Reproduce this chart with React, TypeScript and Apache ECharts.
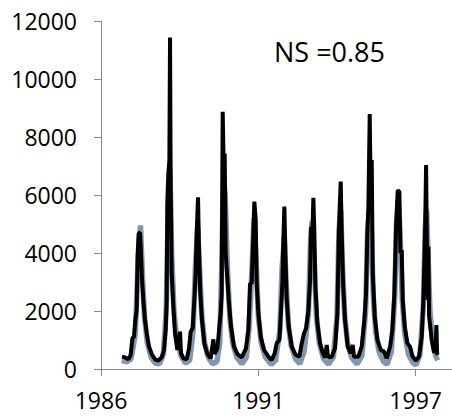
import React, { useEffect, useRef } from "react";
import * as echarts from "echarts";

// x: decimal year, y: discharge
const observedYears: number[] = [
  1986.734, 1986.839, 1986.956, 1987.037, 1987.096, 1987.154, 1987.2, 1987.247, 1987.282, 1987.317, 1987.364, 1987.399, 1987.434, 1987.48, 1987.538, 1987.597, 1987.678, 1987.772, 1987.888, 1988.005, 1988.121, 1988.203,
  1988.261, 1988.296, 1988.32, 1988.355, 1988.39, 1988.413, 1988.436, 1988.471, 1988.518, 1988.587, 1988.669, 1988.762, 1988.797, 1988.879, 1988.995, 1989.077, 1989.135, 1989.205,
  1989.263, 1989.31, 1989.345, 1989.392, 1989.427, 1989.473, 1989.531, 1989.613, 1989.718, 1989.834, 1989.928, 1989.974, 1990.068, 1990.138,
  1990.184, 1990.219, 1990.254, 1990.289, 1990.324, 1990.359, 1990.406, 1990.464, 1990.545, 1990.65, 1990.767, 1990.918, 1991.07, 1991.152,
  1991.21, 1991.268, 1991.326, 1991.361, 1991.408, 1991.443, 1991.501, 1991.583, 1991.699, 1991.851, 1991.967, 1992.072, 1992.142, 1992.235, 1992.294,
  1992.34, 1992.375, 1992.41, 1992.445, 1992.492, 1992.562, 1992.667, 1992.807, 1992.935, 1993.016, 1993.098, 1993.17, 1993.25, 1993.308,
  1993.343, 1993.39, 1993.424, 1993.459, 1993.494, 1993.564, 1993.657, 1993.75, 1993.832, 1993.89, 1993.937, 1994.065, 1994.182, 1994.263,
  1994.31, 1994.345, 1994.38, 1994.415, 1994.462, 1994.531, 1994.625, 1994.73, 1994.8, 1994.846, 1994.998, 1995.114, 1995.207, 1995.266,
  1995.312, 1995.347, 1995.394, 1995.429, 1995.464, 1995.499, 1995.569, 1995.662, 1995.779, 1995.895, 1995.988, 1996.105, 1996.186, 1996.256,
  1996.315, 1996.373, 1996.431, 1996.466, 1996.513, 1996.548, 1996.618, 1996.711, 1996.804, 1996.886, 1997.002, 1997.119, 1997.212, 1997.27,
  1997.329, 1997.364, 1997.399, 1997.422, 1997.446, 1997.469, 1997.562, 1997.643, 1997.702, 1997.725, 1997.748, 1997.772,
];
const observedFlow: number[] = [
  425, 400, 333, 480, 1057, 1115, 1690, 2030, 3990, 4680, 4700, 3990, 3070, 2380, 1690, 1230, 770, 517, 333, 287, 400, 655,
  1344, 2380, 5825, 6745, 7204, 11433, 6400, 3300, 2380, 1230, 655, 1287, 540, 368, 333, 712, 1287, 1402,
  2380, 3300, 4680, 5920, 3990, 2610, 1690, 885, 517, 368, 1023, 517, 712, 1460,
  1920, 2610, 8870, 6975, 7434, 3990, 3300, 2380, 1460, 770, 517, 400, 712, 1344,
  2950, 2950, 4680, 5770, 5140, 2950, 1920, 1115, 655, 425, 310, 540, 885, 1000, 2030,
  2950, 4450, 5600, 3990, 2380, 1460, 770, 483, 425, 885, 1230, 1402, 2030, 3070,
  4900, 4680, 5905, 4680, 2840, 1575, 885, 540, 400, 827, 400, 425, 712, 1920,
  4450, 5600, 6460, 4680, 2950, 1690, 770, 540, 827, 425, 425, 770, 1690, 2610,
  4680, 5600, 8790, 5825, 7204, 3300, 1804, 1000, 655, 598, 368, 770, 1344, 2610,
  4900, 6170, 6110, 3990, 4100, 2380, 1460, 885, 770, 448, 287, 425, 1115, 2380,
  4680, 7030, 3530, 2380, 4220, 1800, 1000, 563, 655, 1517, 540, 483,
];

const simulatedYears: number[] = [
  1986.73, 1986.9, 1987.05, 1987.2, 1987.3, 1987.38, 1987.45, 1987.52, 1987.62, 1987.75, 1987.9, 1988.05, 1988.18,
  1988.28, 1988.35, 1988.41, 1988.47, 1988.55, 1988.65, 1988.8, 1988.95, 1989.1, 1989.22,
  1989.3, 1989.38, 1989.44, 1989.52, 1989.62, 1989.75, 1989.9, 1990.05, 1990.15,
  1990.22, 1990.28, 1990.34, 1990.42, 1990.5, 1990.6, 1990.75, 1990.92, 1991.08, 1991.18,
  1991.28, 1991.35, 1991.42, 1991.5, 1991.6, 1991.75, 1991.95, 1992.1, 1992.25,
  1992.33, 1992.41, 1992.47, 1992.55, 1992.65, 1992.8, 1992.95, 1993.1, 1993.25,
  1993.33, 1993.38, 1993.45, 1993.53, 1993.63, 1993.78, 1993.95, 1994.12, 1994.25,
  1994.32, 1994.38, 1994.44, 1994.52, 1994.62, 1994.76, 1994.95, 1995.12, 1995.25,
  1995.32, 1995.39, 1995.45, 1995.52, 1995.6, 1995.72, 1995.88, 1996.0, 1996.15, 1996.27,
  1996.33, 1996.39, 1996.45, 1996.53, 1996.62, 1996.75, 1996.9, 1997.02, 1997.15, 1997.27,
  1997.33, 1997.38, 1997.43, 1997.5, 1997.6, 1997.7, 1997.77,
];
const simulatedFlow: number[] = [
  300, 250, 350, 1200, 3800, 4950, 3200, 1800, 900, 400, 200, 180, 500,
  2000, 5500, 6900, 4000, 2000, 1000, 450, 200, 300, 1300,
  3500, 4900, 3600, 1900, 900, 400, 180, 250, 900,
  3500, 6500, 6000, 3500, 1800, 900, 400, 180, 400, 1500,
  3500, 5200, 3800, 1800, 900, 400, 150, 300, 1300,
  3500, 4500, 3000, 1500, 800, 350, 180, 600, 1900,
  4500, 5100, 3800, 1800, 900, 350, 170, 400, 1800,
  4800, 5500, 3600, 1800, 900, 400, 170, 450, 2000,
  4800, 5500, 4800, 2500, 1300, 600, 250, 160, 600, 2500,
  5000, 5800, 4800, 2400, 1200, 500, 220, 140, 500, 2200,
  4800, 5500, 4000, 2000, 900, 450, 300,
];

const xTickValues: number[] = [1986, 1991.5, 1997];
const xTickLabels: string[] = ["1986", "1991", "1997"];
const nsLabel = "NS =0.85";

const FONT = "'Open Sans', 'Noto Sans', sans-serif";

export default function App() {
  const ref = useRef<HTMLDivElement>(null);
  useEffect(() => {
    if (!ref.current) return;
    const chart = echarts.init(ref.current, null, { renderer: "svg" });
    const obs = observedYears.map((x, i) => [x, observedFlow[i]]);
    const sim = simulatedYears.map((x, i) => [x, simulatedFlow[i]]);
    chart.setOption({
      animation: false,
      backgroundColor: "#ffffff",
      grid: { left: 101, top: 21, width: 351, height: 348, containLabel: false },
      xAxis: {
        type: "value",
        min: 1986,
        max: 1998.27,
        axisLine: { show: true, lineStyle: { color: "#888888", width: 1 } },
        axisTick: { show: true, length: 7, lineStyle: { color: "#888888" }, customValues: xTickValues },
        axisLabel: {
          customValues: xTickValues,
          formatter: (v: number) => {
            const i = xTickValues.findIndex((t) => Math.abs(t - v) < 1e-6);
            return i >= 0 ? xTickLabels[i] : "";
          },
          fontSize: 23,
          lineHeight: 22,
          fontFamily: FONT,
          color: "#000000",
          margin: 20,
        },
        splitLine: { show: false },
      },
      yAxis: {
        type: "value",
        min: 0,
        max: 12000,
        interval: 2000,
        axisLine: { show: true, lineStyle: { color: "#888888", width: 1 } },
        axisTick: { show: true, length: 7, lineStyle: { color: "#888888" } },
        axisLabel: {
          fontSize: 23,
          fontFamily: FONT,
          color: "#000000",
          margin: 24,
          formatter: (v: number) => String(v),
        },
        splitLine: { show: false },
      },
      graphic: [
        {
          type: "text",
          left: 274,
          top: 38,
          style: { text: nsLabel, fontSize: 27, fontFamily: FONT, fill: "#000000" },
        },
      ],
      series: [
        {
          name: "Simulated",
          type: "line",
          data: sim,
          showSymbol: false,
          lineStyle: { color: "#8497b0", width: 5.5 },
          z: 2,
        },
        {
          name: "Observed",
          type: "line",
          data: obs,
          showSymbol: false,
          lineStyle: { color: "#000000", width: 4 },
          z: 3,
        },
      ],
    });
    return () => chart.dispose();
  }, []);
  return <div ref={ref} style={{ position: "fixed", left: 0, top: 0, width: 452, height: 416 }} />;
}
